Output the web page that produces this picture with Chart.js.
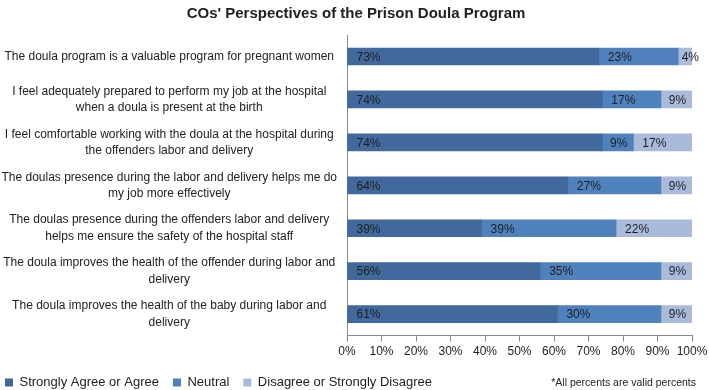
<!DOCTYPE html>
<html>
<head>
<meta charset="utf-8">
<script src="https://cdn.jsdelivr.net/npm/chart.js@4/dist/chart.umd.min.js"></script>
<style>
    html, body { margin: 0; padding: 0; background: #fff; }
    #wrap { width: 709px; height: 390px; position: relative; }
</style>
</head>
<body>
<div id="wrap"><canvas id="doulaChart"></canvas></div>
<script>
// Survey statements (y axis)
const statements = [
    'The doula program is a valuable program for pregnant women',
    ['I feel adequately prepared to perform my job at the hospital', 'when a doula is present at the birth'],
    ['I feel comfortable working with the doula at the hospital during', 'the offenders labor and delivery'],
    ['The doulas presence during the labor and delivery helps me do', 'my job more effectively'],
    ['The doulas presence during the offenders labor and delivery', 'helps me ensure the safety of the hospital staff'],
    ['The doula improves the health of the offender during labor and', 'delivery'],
    ['The doula improves the health of the baby during labor and', 'delivery']
];

// Percent of responses per statement
const agree = [73, 74, 74, 64, 39, 56, 61];
const neutral = [23, 17, 9, 27, 39, 35, 30];
const disagree = [4, 9, 17, 9, 22, 9, 9];

const seriesNames = ['Strongly Agree or Agree', 'Neutral', 'Disagree or Strongly Disagree'];
const xTicks = [0, 10, 20, 30, 40, 50, 60, 70, 80, 90, 100];
const footnote = '*All percents are valid percents';

const FONT = '"Liberation Sans", Arial, sans-serif';

// Writes the percent inside each bar segment, near its left edge
const barLabels = {
    id: 'barLabels',
    afterDatasetsDraw(chart) {
        const ctx = chart.ctx;
        ctx.save();
        ctx.font = '12px ' + FONT;
        ctx.fillStyle = '#1e1e1e';
        ctx.textAlign = 'left';
        ctx.textBaseline = 'middle';
        chart.data.datasets.forEach((ds, i) => {
            const meta = chart.getDatasetMeta(i);
            meta.data.forEach((bar, j) => {
                const left = Math.min(bar.base, bar.x);
                const w = Math.abs(bar.x - bar.base);
                const off = Math.min(9, w / 4);
                ctx.fillText(ds.data[j] + '%', left + off, bar.y + 1);
            });
        });
        ctx.restore();
    }
};

// Small note in the lower right corner
const footNote = {
    id: 'footNote',
    afterDraw(chart) {
        const ctx = chart.ctx;
        ctx.save();
        ctx.font = '10.5px ' + FONT;
        ctx.fillStyle = '#222';
        ctx.textAlign = 'right';
        ctx.textBaseline = 'middle';
        ctx.fillText(footnote, 696, 383);
        ctx.restore();
    }
};

const ctx = document.getElementById('doulaChart').getContext('2d');
new Chart(ctx, {
    type: 'bar',
    data: {
        labels: statements,
        datasets: [
            { label: seriesNames[0], data: agree, backgroundColor: '#41699d' },
            { label: seriesNames[1], data: neutral, backgroundColor: '#4f81bd' },
            { label: seriesNames[2], data: disagree, backgroundColor: '#a9badb' }
        ]
    },
    options: {
        indexAxis: 'y',
        responsive: true,
        maintainAspectRatio: false,
        animation: false,
        barThickness: 17,
        // negative sides shift the title centre and the legend start
        layout: { padding: { left: -9, right: -12, top: 0, bottom: 0 } },
        plugins: {
            title: {
                display: true,
                text: "COs' Perspectives of the Prison Doula Program",
                color: '#222',
                font: { family: FONT, size: 15, weight: 'bold' },
                padding: { top: 5, bottom: 12 }
            },
            legend: {
                position: 'bottom',
                align: 'start',
                maxHeight: 28,
                labels: {
                    color: '#222',
                    font: { family: FONT, size: 13 },
                    boxWidth: 8,
                    boxHeight: 8,
                    padding: 14
                }
            },
            tooltip: { enabled: false }
        },
        scales: {
            x: {
                stacked: true,
                min: 0,
                max: 100,
                afterBuildTicks: (scale) => { scale.ticks = xTicks.map(v => ({ value: v })); },
                afterFit: (scale) => {
                    scale.paddingLeft = 0;
                    scale.paddingRight = 17;
                },
                ticks: {
                    color: '#222',
                    font: { family: FONT, size: 12 },
                    padding: 3,
                    maxRotation: 0,
                    minRotation: 0,
                    autoSkip: false,
                    callback: (v) => v + '%'
                },
                grid: { drawOnChartArea: false, drawTicks: true, tickLength: 6, color: '#888' },
                border: { color: '#888' }
            },
            y: {
                stacked: true,
                ticks: {
                    color: '#222',
                    font: { family: FONT, size: 12, lineHeight: 1.35 },
                    crossAlign: 'center',
                    padding: 10
                },
                grid: { display: false, drawTicks: false },
                border: { color: '#888' },
                afterFit: (scale) => { scale.width = 356; }
            }
        }
    },
    plugins: [barLabels, footNote]
});
</script>
</body>
</html>
